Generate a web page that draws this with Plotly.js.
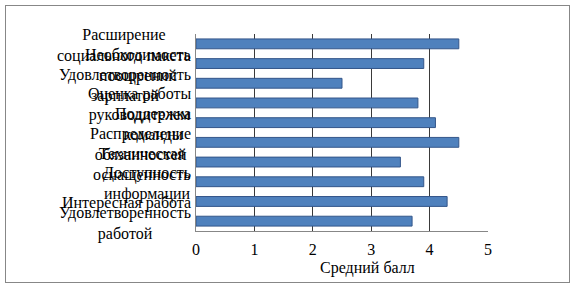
<!DOCTYPE html>
<html>
<head>
<meta charset="utf-8">
<script src="https://cdn.plot.ly/plotly-3.0.1.min.js"></script>
<style>
  html, body { margin: 0; padding: 0; background: #fff; }
  #wrap { position: relative; width: 576px; height: 288px; }
  #chart { position: absolute; left: 0; top: 0; width: 576px; height: 288px; }
  #frame { position: absolute; left: 5px; top: 5px; width: 563px; height: 276px;
           border: 1px solid #878787; pointer-events: none; }
</style>
</head>
<body>
<div id="wrap">
  <div id="chart"></div>
  <div id="frame"></div>
</div>
<script>
// Categories, top to bottom
const categories = [
  "Расширение<br>социального пакета",
  "Необходимость<br>поощрений",
  "Удовлетворенность<br>зарплатой",
  "Оценка работы<br>руководителем",
  "Поддержка<br>команды",
  "Распределение<br>обязанностей",
  "Техническая<br>оснащенность",
  "Доступность<br>информации",
  "Интересная работа",
  "Удовлетворенность<br>работой"
];
const scores = [4.5, 3.9, 2.5, 3.8, 4.1, 4.5, 3.5, 3.9, 4.3, 3.7];
const xTickVals = [0, 1, 2, 3, 4, 5];
const xTitle = "Средний балл";

const serif = "Liberation Serif";

const trace = {
  type: "bar",
  orientation: "h",
  x: scores,
  y: categories,
  marker: { color: "#4f81bd", line: { color: "#34568a", width: 1 } },
  hoverinfo: "none"
};

const annotations = categories.map(c => ({
  x: 0, xref: "paper", xanchor: "right", xshift: -3,
  y: c, yref: "y", yanchor: "middle", yshift: -2,
  text: c, showarrow: false, align: "center",
  font: { family: serif, size: 16, color: "#000" }
}));
annotations.push({
  x: 0.586, xref: "paper", xanchor: "center",
  y: 0, yref: "paper", yanchor: "top", yshift: -26,
  text: xTitle, showarrow: false,
  font: { family: serif, size: 16, color: "#000" }
});

const layout = {
  width: 576, height: 288,
  margin: { l: 196, r: 88, t: 34, b: 57 },
  paper_bgcolor: "#fff", plot_bgcolor: "#fff",
  font: { family: serif, size: 16, color: "#000" },
  showlegend: false,
  bargap: 0.5,
  xaxis: {
    range: [0, 5], tickvals: xTickVals,
    showgrid: true, gridcolor: "#3a3a3a", gridwidth: 1,
    zeroline: false, showline: true, linecolor: "#878787", linewidth: 1,
    ticks: "", ticklen: 0, ticklabelstandoff: 4,
    tickfont: { family: serif, size: 16, color: "#000" },
    fixedrange: true
  },
  yaxis: {
    type: "category", categoryorder: "array", categoryarray: categories,
    range: [categories.length - 0.5, -0.5], autorange: false,
    showticklabels: false, ticks: "",
    showgrid: false, zeroline: false,
    showline: true, linecolor: "#878787", linewidth: 1,
    fixedrange: true
  },
  annotations: annotations
};

Plotly.newPlot("chart", [trace], layout, { staticPlot: true, displayModeBar: false });
</script>
</body>
</html>
